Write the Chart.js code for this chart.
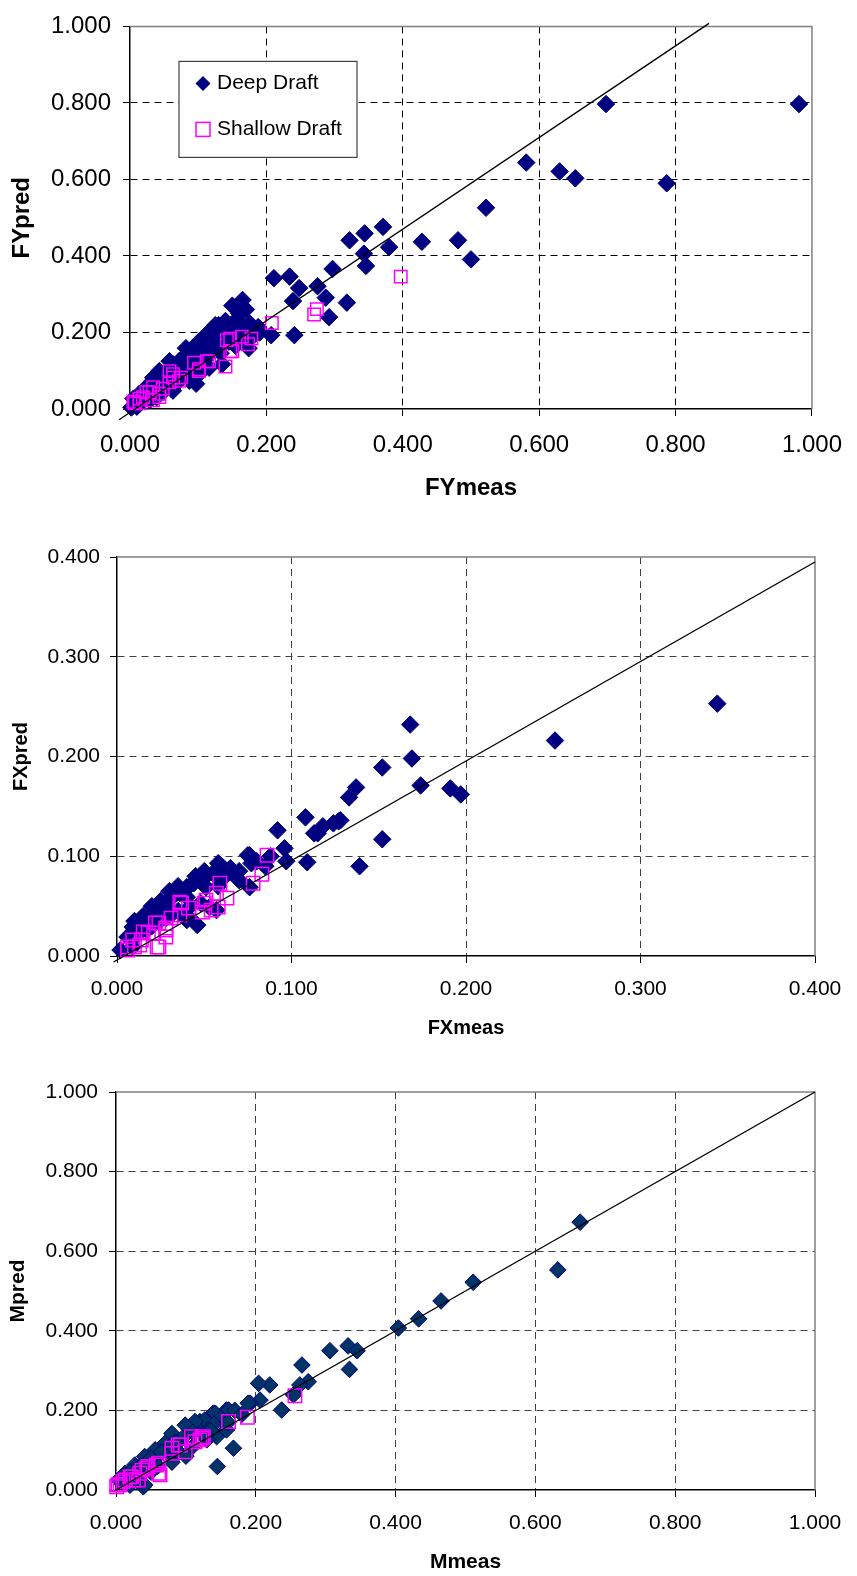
<!DOCTYPE html>
<html>
<head>
<meta charset="utf-8">
<title>Predicted vs measured: FY, FX, M</title>
<script src="https://cdn.jsdelivr.net/npm/chart.js@4.4.1/dist/chart.umd.min.js"></script>
<style>
  html, body { margin: 0; padding: 0; background: #fff; }
  #page { position: relative; width: 857px; height: 1576px; }
  canvas { position: absolute; left: 0; }
</style>
</head>
<body>
<div id="page">
  <canvas id="chart-fy" width="857" height="515" style="top:0"></canvas>
  <canvas id="chart-fx" width="857" height="535" style="top:515px"></canvas>
  <canvas id="chart-m" width="857" height="526" style="top:1050px"></canvas>
</div>
<script>
// ---- data: [measured, predicted] pairs ----
const fyDeep = [
  [0.981,0.797],[0.698,0.797],[0.581,0.644],[0.630,0.621],[0.653,0.603],[0.787,0.590],
  [0.522,0.526],[0.428,0.437],[0.481,0.441],[0.500,0.391],
  [0.322,0.441],[0.344,0.459],[0.371,0.476],[0.380,0.423],[0.343,0.406],[0.346,0.374],
  [0.297,0.366],[0.211,0.342],[0.234,0.346],[0.248,0.316],[0.275,0.321],[0.287,0.291],
  [0.239,0.282],[0.318,0.278],[0.292,0.240],[0.241,0.193],[0.207,0.193],
  [0.165,0.285],[0.150,0.270],[0.157,0.235],[0.125,0.219],[0.176,0.223],[0.188,0.214],
  [0.116,0.176],[0.097,0.168],[0.174,0.159],[0.082,0.159],[0.133,0.146],[0.101,0.133],
  [0.058,0.125],[0.072,0.117],[0.135,0.117],[0.116,0.108],[0.101,0.091],[0.043,0.099],
  [0.034,0.082],[0.087,0.074],[0.024,0.057],[0.063,0.048],[0.014,0.031],[0.039,0.031],
  [0.010,0.006],[0.005,0.027],[0.014,0.040],[0.024,0.053],[0.034,0.066],[0.043,0.082],
  [0.053,0.095],[0.063,0.117],[0.072,0.125],[0.082,0.142],[0.092,0.159],[0.101,0.176],
  [0.111,0.193],[0.121,0.210],[0.130,0.219],[0.029,0.023],[0.048,0.044],[0.068,0.066],
  [0.087,0.082],[0.097,0.066],[0.106,0.117],[0.116,0.142],[0.130,0.159],[0.145,0.176],
  [0.012,0.010],[0.002,0.004],
  [0.110,0.160],[0.120,0.185],[0.140,0.200],[0.150,0.215],[0.160,0.250],[0.170,0.260],
  [0.140,0.230],[0.125,0.190],[0.155,0.200],[0.165,0.205],[0.180,0.190],[0.190,0.200],
  [0.085,0.120],[0.095,0.140],[0.075,0.100],[0.060,0.080],[0.050,0.070],[0.040,0.060],
  [0.030,0.045],[0.020,0.035],[0.110,0.130],[0.120,0.150],[0.090,0.110],[0.155,0.165],
  [0.160,0.180]
];
const fyShallow = [
  [0.397,0.346],[0.274,0.261],[0.270,0.247],[0.208,0.225],[0.178,0.184],[0.173,0.169],
  [0.164,0.189],[0.147,0.184],[0.147,0.151],[0.140,0.111],[0.113,0.125],[0.094,0.121],
  [0.101,0.099],[0.058,0.099],[0.063,0.082],[0.072,0.074],[0.034,0.057],[0.048,0.053],
  [0.024,0.044],[0.043,0.040],[0.014,0.027],[0.007,0.015],[0.142,0.180],[0.150,0.151],
  [0.116,0.125],[0.101,0.104],[0.063,0.091],[0.075,0.082],[0.058,0.070],[0.029,0.044],
  [0.019,0.031],[0.005,0.019],[0.043,0.031],[0.034,0.023],[0.014,0.015]
];
const fyFit = [[-0.016,-0.028],[0.849,1.008]];
const fyTicks = [0, 0.2, 0.4, 0.6, 0.8, 1.0];

const fxDeep = [
  [0.344,0.253],[0.251,0.216],[0.168,0.232],[0.169,0.198],[0.174,0.171],[0.191,0.168],
  [0.197,0.162],[0.152,0.189],[0.152,0.117],[0.139,0.090],[0.137,0.169],[0.133,0.159],
  [0.128,0.136],[0.124,0.133],[0.118,0.130],[0.113,0.123],[0.108,0.139],[0.109,0.094],
  [0.096,0.108],[0.097,0.095],[0.092,0.126],[0.075,0.101],[0.077,0.093],[0.076,0.069],
  [0.070,0.076],[0.058,0.093],[0.065,0.088],[0.046,0.031],[0.057,0.046],[0.115,0.123],
  [0.127,0.135],[0.076,0.101],[0.045,0.076],[0.039,0.066],[0.031,0.059],[0.024,0.046],
  [0.016,0.036],[0.010,0.026],[0.041,0.039],
  [0.009,0.029],[0.015,0.036],[0.021,0.043],[0.027,0.049],[0.030,0.056],[0.036,0.063],
  [0.040,0.069],[0.044,0.073],[0.048,0.076],[0.051,0.080],[0.055,0.083],[0.040,0.059],
  [0.048,0.053],[0.032,0.043],[0.025,0.036],[0.017,0.026],[0.051,0.069],[0.067,0.083],
  [0.040,0.036],[0.053,0.049],[0.006,0.019],[0.002,0.006],[0.009,0.009],
  [0.060,0.090],[0.050,0.085],[0.045,0.080],[0.035,0.070],[0.030,0.065],[0.025,0.055],
  [0.020,0.050],[0.015,0.040],[0.010,0.035],[0.042,0.050],[0.058,0.070],[0.062,0.080],
  [0.035,0.045],[0.028,0.038],[0.020,0.030],[0.012,0.022],[0.070,0.085],[0.080,0.095],
  [0.085,0.090],[0.088,0.100]
];
const fxShallow = [
  [0.086,0.101],[0.083,0.082],[0.078,0.073],[0.059,0.073],[0.057,0.063],[0.063,0.058],
  [0.051,0.056],[0.058,0.049],[0.049,0.044],[0.036,0.054],[0.041,0.048],[0.036,0.041],
  [0.031,0.038],[0.024,0.033],[0.028,0.028],[0.021,0.023],[0.015,0.024],[0.023,0.009],
  [0.009,0.016],[0.006,0.009],[0.013,0.011],[0.028,0.019],[0.037,0.053],[0.050,0.053],
  [0.054,0.046],[0.028,0.026],[0.022,0.033],[0.018,0.023],[0.014,0.016],[0.010,0.009],
  [0.006,0.006],[0.024,0.009]
];
const fxFit = [[-0.002,-0.006],[0.4,0.395]];
const fxTicks = [0, 0.1, 0.2, 0.3, 0.4];

const mDeep = [
  [0.664,0.673],[0.632,0.553],[0.511,0.522],[0.465,0.475],[0.433,0.430],[0.404,0.407],
  [0.306,0.350],[0.332,0.362],[0.345,0.350],[0.334,0.303],[0.266,0.314],[0.275,0.272],
  [0.263,0.264],[0.254,0.239],[0.220,0.264],[0.204,0.268],[0.206,0.226],[0.192,0.218],
  [0.237,0.201],[0.168,0.105],[0.145,0.059],[0.158,0.201],[0.139,0.193],[0.120,0.172],
  [0.106,0.159],[0.158,0.151],[0.144,0.134],[0.130,0.126],[0.073,0.113],[0.082,0.084],
  [0.058,0.084],[0.044,0.067],[0.039,0.008],
  [0.189,0.218],[0.161,0.201],[0.142,0.193],[0.127,0.176],[0.113,0.172],[0.099,0.163],
  [0.080,0.142],[0.070,0.117],[0.056,0.101],[0.041,0.084],[0.027,0.063],[0.013,0.042],
  [0.003,0.025],[0.041,0.013],[0.090,0.095],[0.110,0.110],[0.125,0.140],[0.060,0.060],
  [0.030,0.030],[0.020,0.012],[0.050,0.045],[0.080,0.070],[0.100,0.085],
  [0.110,0.145],[0.095,0.130],[0.085,0.120],[0.075,0.105],[0.065,0.095],[0.050,0.080],
  [0.035,0.060],[0.020,0.045],[0.150,0.180],[0.140,0.165],[0.170,0.200],[0.180,0.190],
  [0.160,0.170],[0.135,0.150]
];
const mShallow = [
  [0.256,0.237],[0.188,0.183],[0.161,0.172],[0.120,0.126],[0.108,0.134],[0.125,0.134],
  [0.092,0.113],[0.099,0.096],[0.080,0.105],[0.058,0.063],[0.061,0.042],[0.044,0.055],
  [0.034,0.042],[0.020,0.033],[0.010,0.021],[0.001,0.008],[0.025,0.025],[0.006,0.013],
  [0.123,0.130],[0.113,0.121],[0.089,0.113],[0.080,0.092],[0.063,0.038],[0.061,0.067],
  [0.046,0.059],[0.037,0.050],[0.022,0.033],[0.013,0.025],[0.003,0.013],[0.032,0.025]
];
const mFit = [[0,0],[1,1]];
const mTicks = [0, 0.2, 0.4, 0.6, 0.8, 1.0];

Chart.defaults.font.family = '"Liberation Sans", Arial, sans-serif';
Chart.defaults.color = '#000';

const toPts = arr => arr.map(p => ({ x: p[0], y: p[1] }));

// gray top/right frame of the plot area
const frame = {
  id: 'frame',
  beforeDatasetsDraw(chart) {
    const { ctx, chartArea: a } = chart;
    ctx.save();
    ctx.strokeStyle = '#808080';
    ctx.lineWidth = 1.5;
    ctx.beginPath();
    ctx.moveTo(a.left, a.top);
    ctx.lineTo(a.right, a.top);
    ctx.lineTo(a.right, a.bottom);
    ctx.stroke();
    ctx.restore();
  }
};

// boxed legend sitting inside the FY plot
const boxLegend = {
  id: 'boxLegend',
  afterDatasetsDraw(chart) {
    const { ctx, chartArea: a } = chart;
    const x = a.left + 49, y = a.top + 35, w = 178, h = 96;
    ctx.save();
    ctx.fillStyle = '#fff';
    ctx.fillRect(x, y, w, h);
    ctx.strokeStyle = '#404040';
    ctx.lineWidth = 1.2;
    ctx.strokeRect(x, y, w, h);
    // diamond
    const dx = x + 24, dy = y + 22, r = 7.5;
    ctx.fillStyle = '#000080';
    ctx.beginPath();
    ctx.moveTo(dx, dy - r); ctx.lineTo(dx + r, dy); ctx.lineTo(dx, dy + r); ctx.lineTo(dx - r, dy);
    ctx.closePath();
    ctx.fill();
    // open square
    const sy = y + 68;
    ctx.strokeStyle = '#ff00ff';
    ctx.lineWidth = 1.5;
    ctx.strokeRect(dx - 7, sy - 7, 14, 14);
    ctx.fillStyle = '#000';
    ctx.font = '21px "Liberation Sans", Arial, sans-serif';
    ctx.textBaseline = 'middle';
    ctx.textAlign = 'left';
    ctx.fillText('Deep Draft', x + 38, dy);
    ctx.fillText('Shallow Draft', x + 38, sy);
    ctx.restore();
  }
};

function makeChart(id, o) {
  const hideEdge = max => c => (c.tick.value <= 1e-9 || c.tick.value >= max - 1e-9) ? 'rgba(0,0,0,0)' : o.gridColor;
  const axis = (max, ticks, title, isX) => ({
    type: 'linear',
    min: 0,
    max: max,
    afterBuildTicks: s => { s.ticks = ticks.map(v => ({ value: v })); },
    afterFit: s => { if (isX) s.height = o.xAxisH; else s.width = o.yAxisW; },
    ticks: {
      callback: v => Number(v).toFixed(3),
      font: { size: o.tickSize },
      padding: isX ? o.xTickPad : o.yTickPad,
      maxRotation: 0,
      autoSkip: false
    },
    grid: { color: hideEdge(max), tickColor: '#000', tickLength: 7, lineWidth: 1 },
    border: { color: '#000', width: 1.5, dash: [7, 5] },
    title: {
      display: true,
      text: title,
      font: { size: o.titleSize, weight: 'bold' },
      padding: isX ? { top: 0, bottom: o.xTitlePad } : { top: o.yTitlePad, bottom: 0 }
    }
  });

  return new Chart(document.getElementById(id), {
    type: 'scatter',
    data: {
      datasets: [
        { label: 'Deep Draft', data: toPts(o.deep), pointStyle: 'rectRot', pointRadius: o.dmR,
          backgroundColor: o.deepFill, borderColor: o.deepEdge, borderWidth: 1, clip: false, order: 2 },
        { label: 'Shallow Draft', data: toPts(o.shallow), pointStyle: 'rect', pointRadius: o.sqR,
          backgroundColor: 'rgba(0,0,0,0)', borderColor: '#ff00ff', borderWidth: 1.5, clip: false, order: 1 },
        { label: 'y = x', data: toPts(o.fit), showLine: true, pointRadius: 0, borderColor: '#000',
          borderWidth: 1.4, clip: false, order: 0 }
      ]
    },
    options: {
      responsive: false,
      animation: false,
      events: [],
      layout: { padding: { top: o.padTop, right: o.padRight, left: 0, bottom: 0 } },
      plugins: { legend: { display: false }, tooltip: { enabled: false } },
      scales: {
        x: axis(o.xMax, o.ticks, o.xTitle, true),
        y: axis(o.xMax, o.ticks, o.yTitle, false)
      }
    },
    plugins: o.legend ? [frame, boxLegend] : [frame]
  });
}

makeChart('chart-fy', {
  deep: fyDeep, shallow: fyShallow, fit: fyFit, ticks: fyTicks, xMax: 1.0,
  xTitle: 'FYmeas', yTitle: 'FYpred', legend: true,
  deepFill: '#000080', deepEdge: '#000080', dmR: 8.75, sqR: 8.8,
  gridColor: '#000', tickSize: 24, titleSize: 24,
  padTop: 17, padRight: 36, yAxisW: 130, xAxisH: 106,
  xTickPad: 15, yTickPad: 12, xTitlePad: 12, yTitlePad: 8
});

makeChart('chart-fx', {
  deep: fxDeep, shallow: fxShallow, fit: fxFit, ticks: fxTicks, xMax: 0.4,
  xTitle: 'FXmeas', yTitle: 'FXpred', legend: false,
  deepFill: '#000080', deepEdge: '#000080', dmR: 8.75, sqR: 9.5,
  gridColor: '#404040', tickSize: 21, titleSize: 20,
  padTop: 42, padRight: 42, yAxisW: 117, xAxisH: 94,
  xTickPad: 14, yTickPad: 10, xTitlePad: 10, yTitlePad: 9
});

makeChart('chart-m', {
  deep: mDeep, shallow: mShallow, fit: mFit, ticks: mTicks, xMax: 1.0,
  xTitle: 'Mmeas', yTitle: 'Mpred', legend: false,
  deepFill: '#003366', deepEdge: '#000080', dmR: 8.3, sqR: 9.5,
  gridColor: '#404040', tickSize: 21, titleSize: 21,
  padTop: 42, padRight: 42, yAxisW: 116, xAxisH: 86,
  xTickPad: 14, yTickPad: 11, xTitlePad: 1.4, yTitlePad: 5.4
});
</script>
</body>
</html>
